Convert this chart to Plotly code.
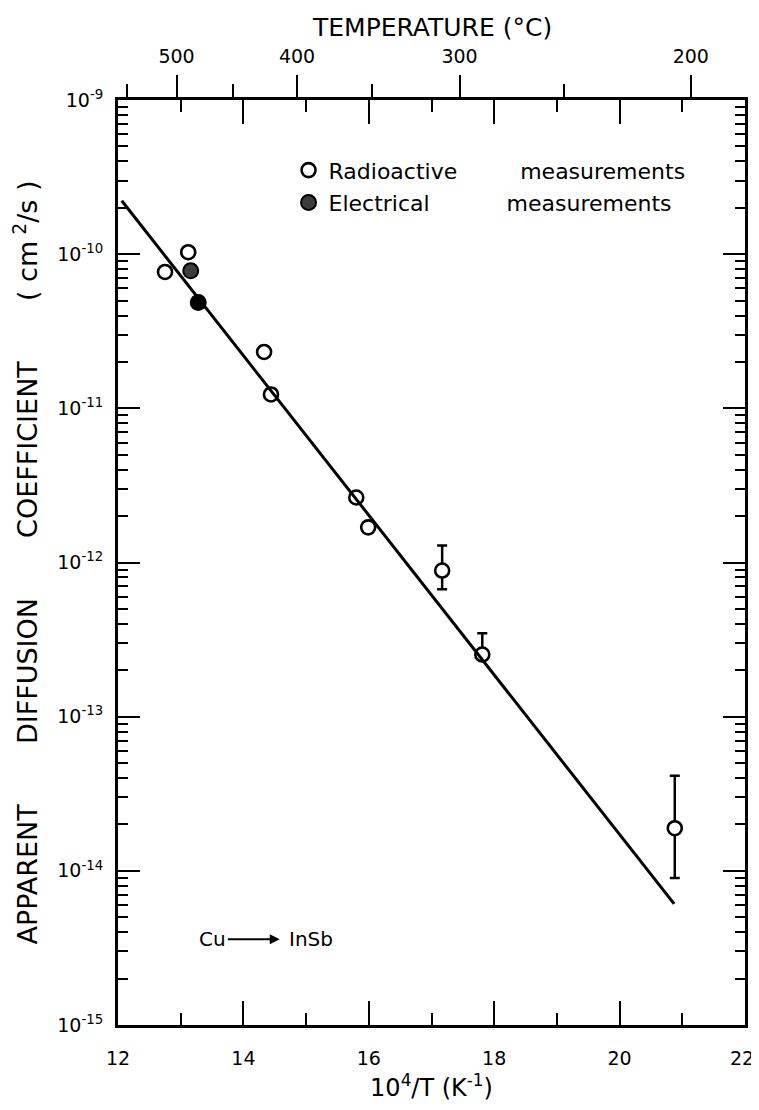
import math
import plotly.graph_objects as go

# ---------------- data ----------------
# Radioactive measurements (open circles)
rad_x = [12.75, 13.12, 14.33, 14.44, 15.80, 15.99, 17.17, 17.81, 20.88]
rad_y = [7.67e-11, 1.03e-10, 2.32e-11, 1.23e-11, 2.64e-12, 1.69e-12, 8.87e-13, 2.53e-13, 1.89e-14]
# error-bar bounds (None = no bar)
rad_hi = [None, None, None, None, None, None, 1.29e-12, 3.48e-13, 4.14e-14]
rad_lo = [None, None, None, None, None, None, 6.7e-13, 2.53e-13, 8.97e-15]

# Electrical measurements (filled circles)
ele_x = [13.16, 13.28]
ele_y = [7.8e-11, 4.85e-11]
ele_colors = ["#3c3c3c", "black"]

# Fitted line end points
fit_x = [12.06, 20.87]
fit_y = [2.22e-10, 6.1e-15]

# Axis ticks
x_major = [12, 14, 16, 18, 20, 22]
x_labels = ["12", "14", "16", "18", "20", "22"]
x_minor = [13, 15, 17, 19, 21]
y_exp = [-15, -14, -13, -12, -11, -10, -9]
temp_major = [500, 400, 300, 200]
temp_minor = [550, 450, 350, 250]

# "Cu -> InSb" label anchor (arrow head), in data units
label_x = 14.58
label_y = 3.6e-15

# ---------------- derived ----------------
err_plus = [(h - y) if h is not None else None for h, y in zip(rad_hi, rad_y)]
err_minus = [(y - l) if l is not None else None for l, y in zip(rad_lo, rad_y)]

y_tickvals = [10.0 ** e for e in y_exp]
y_ticktext = ["10<sup>%d</sup>" % e for e in y_exp]
y_minor = [m * 10.0 ** e for e in y_exp[:-1] for m in range(2, 10)]

def inv_t(tc):
    return 1e4 / (tc + 273.15)

FONT = "DejaVu Sans"
BLACK = "black"
NB = "\u00a0"

# keep the right-most bottom label inside the page
x_ticktext = x_labels[:-1] + [x_labels[-1] + NB]

fig = go.Figure()

fig.add_trace(go.Scatter(
    x=fit_x, y=fit_y, mode="lines", xaxis="x2",
    line=dict(color=BLACK, width=3), showlegend=False, hoverinfo="skip"))

fig.add_trace(go.Scatter(
    x=rad_x, y=rad_y, mode="markers",
    name="Radioactive" + NB * 9 + "measurements",
    marker=dict(symbol="circle", size=14, color="white",
                line=dict(color=BLACK, width=2.6)),
    error_y=dict(type="data", symmetric=False, array=err_plus, arrayminus=err_minus,
                 color=BLACK, thickness=2.5, width=5),
    legend="legend"))

fig.add_trace(go.Scatter(
    x=ele_x, y=ele_y, mode="markers",
    name="Electrical" + NB * 11 + "measurements",
    marker=dict(symbol="circle", size=15, color=ele_colors,
                line=dict(color=BLACK, width=2)),
    legend="legend2"))

axis_common = dict(showgrid=False, zeroline=False, linecolor=BLACK, linewidth=3,
                   tickcolor=BLACK, tickwidth=2, automargin=False)

fig.update_layout(
    width=751, height=1094,
    margin=dict(l=110, r=14, t=92, b=77),
    paper_bgcolor="white", plot_bgcolor="white",
    font=dict(family=FONT, color=BLACK),
    xaxis=dict(range=[12, 22], tickmode="array", tickvals=x_major, ticktext=x_ticktext,
               ticks="inside", ticklen=24, mirror="ticks", ticklabeloverflow="allow",
               minor=dict(tickmode="array", tickvals=x_minor, ticks="inside",
                          ticklen=12, tickwidth=2, tickcolor=BLACK),
               ticklabelstandoff=14,
               tickfont=dict(family=FONT, size=19, color=BLACK),
               title=dict(text="10<sup>4</sup>/T (K<sup>-1</sup>)",
                          font=dict(family=FONT, size=24, color=BLACK), standoff=12),
               **axis_common),
    xaxis2=dict(range=[12, 22], overlaying="x", side="top", anchor="y",
                tickmode="array", tickvals=[inv_t(t) for t in temp_major],
                ticktext=[str(t) for t in temp_major],
                ticks="outside", ticklen=22,
                minor=dict(tickmode="array", tickvals=[inv_t(t) for t in temp_minor],
                           ticks="outside", ticklen=13, tickwidth=2, tickcolor=BLACK),
                ticklabelstandoff=4,
                tickfont=dict(family=FONT, size=19, color=BLACK),
                **axis_common),
    yaxis=dict(type="log", range=[-15, -9], tickmode="array",
               tickvals=y_tickvals, ticktext=y_ticktext,
               ticks="inside", ticklen=22, mirror="ticks",
               minor=dict(tickmode="array", tickvals=y_minor, ticks="inside",
                          ticklen=10, tickwidth=2, tickcolor=BLACK),
               ticklabelstandoff=8,
               tickfont=dict(family=FONT, size=19, color=BLACK),
               title=dict(text="APPARENT" + NB * 7 + "DIFFUSION" + NB * 7 + "COEFFICIENT"
                               + NB * 7 + "(" + NB + "cm<sup>" + NB + "2</sup>/s" + NB + ")",
                          font=dict(family=FONT, size=27, color=BLACK), standoff=12),
               **axis_common),
    legend=dict(x=0.272, y=0.924, xanchor="left", yanchor="middle",
                bgcolor="rgba(0,0,0,0)", font=dict(family=FONT, size=22, color=BLACK),
                itemwidth=30, tracegroupgap=0),
    legend2=dict(x=0.272, y=0.889, xanchor="left", yanchor="middle",
                 bgcolor="rgba(0,0,0,0)", font=dict(family=FONT, size=22, color=BLACK),
                 itemwidth=30, tracegroupgap=0),
    annotations=[
        dict(text="TEMPERATURE (°C)", xref="paper", yref="paper", x=0.5, y=1.078,
             xanchor="center", yanchor="middle", showarrow=False,
             font=dict(family=FONT, size=25, color=BLACK)),
        dict(text="Cu", x=label_x, y=math.log10(label_y), xref="x", yref="y",
             ax=-67, ay=0, axref="pixel", ayref="pixel",
             showarrow=True, arrowhead=2, arrowsize=1, arrowwidth=2, arrowcolor=BLACK,
             standoff=0,
             font=dict(family=FONT, size=20, color=BLACK)),
        dict(text="InSb", x=label_x, y=math.log10(label_y), xref="x", yref="y",
             xanchor="left", xshift=7, showarrow=False,
             font=dict(family=FONT, size=20, color=BLACK)),
    ],
)

fig.write_html("out.html")
